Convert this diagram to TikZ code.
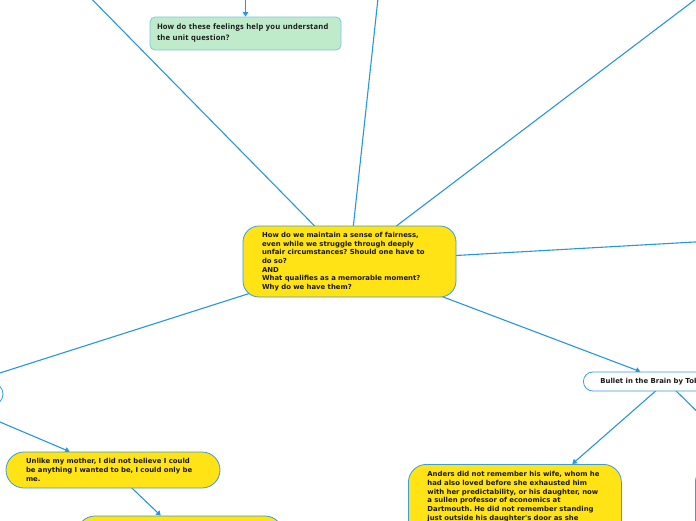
\documentclass[tikz,border=0pt]{standalone}
\usepackage{fontspec}
\usepackage{xcolor}
\usepackage{tikz}
\usetikzlibrary{arrows.meta, backgrounds}
\frenchspacing
\newfontfamily\mapfont{DejaVu Sans}
\newfontfamily\notefont{Open Sans}[LetterSpace=2]
\newcommand{\mapbold}{\mapfont\bfseries\fontsize{6.9pt}{8.65pt}\selectfont}
\newcommand{\notebold}{\notefont\bfseries\fontsize{7.6pt}{11pt}\selectfont}
\definecolor{ideayellow}{RGB}{255,227,20}
\definecolor{nodeblue}{RGB}{58,157,220}
\definecolor{linkblue}{RGB}{40,150,220}
\definecolor{notegreen}{RGB}{192,235,203}
\definecolor{noteedge}{RGB}{125,198,228}
\definecolor{inkblack}{RGB}{25,25,25}
\tikzstyle{topic} = [rectangle, rounded corners=16pt, draw=nodeblue, fill=ideayellow, line width=0.8pt, text=inkblack, font=\mapbold, align=left]
\tikzstyle{branch} = [rectangle, rounded corners=9.5pt, draw=nodeblue, fill=white, line width=0.8pt, text=inkblack, font=\mapbold, minimum height=19pt, inner xsep=17pt]
\tikzstyle{note} = [rectangle, rounded corners=5pt, draw=noteedge, fill=notegreen, line width=0.8pt, text=inkblack, font=\notebold, align=left, text width=177pt, inner xsep=7pt, minimum width=191pt, minimum height=33pt]
\tikzstyle{link} = [linkblue, line width=1.1pt]
\tikzstyle{arrow} = [link, -{Triangle[width=5.5pt,length=4.5pt]}]

\begin{document}
\begin{tikzpicture}[x=1pt, y=-1pt]
\useasboundingbox (0,0) rectangle (696,520);
\clip (0,0) rectangle (696,520);

% Central question
\node (question) [topic, text width=175pt, inner xsep=19pt, minimum height=71pt] at (349.5,261.5) {How do we maintain a sense of fairness,\\even while we struggle through deeply\\unfair circumstances? Should one have to\\do so?\\AND\\What qualifies as a memorable moment?\\Why do we have them?};

% Top note
\node (feelings) [note] at (245.5,33.5) {How do these feelings help you understand\\the unit question?};

% Left branch
\node (leftstory) [branch, rounded corners=11pt, minimum width=138pt, minimum height=22pt] at (-66,394) {};
\node (mother) [topic, rounded corners=18pt, text width=174pt, inner xsep=20pt, minimum height=36pt] at (113,470) {Unlike my mother, I did not believe I could\\be anything I wanted to be, I could only be\\me.};
\node (mothernext) [topic, rounded corners=18pt, minimum width=206pt, minimum height=36pt] at (180,534) {};

% Right branch
\node (bullet) [branch, anchor=west] at (583,381.5) {Bullet in the Brain by Tobias Wolff};
\node (anders) [topic, anchor=north west, rounded corners=18pt, text width=175pt, inner xsep=19pt, inner ysep=7.3pt, text depth=80pt] at (408,464) {Anders did not remember his wife, whom he\\had also loved before she exhausted him\\with her predictability, or his daughter, now\\a sullen professor of economics at\\Dartmouth. He did not remember standing\\just outside his daughter's door as she};
\node (rightnote) [topic, anchor=north west, rounded corners=18pt, minimum width=213pt, minimum height=100pt] at (695,464) {};

% Free ends of the branches leaving the picture
\coordinate (upleft) at (73,-20);
\coordinate (upmid) at (380,-20);
\coordinate (upright) at (721,-20);
\coordinate (farright) at (730,240);
\coordinate (feelparent) at (245.5,-20);

% Links
\begin{scope}[on background layer]
\clip (0,0) rectangle (696,520);
\draw [link] (question.center) -- (upleft);
\draw [link] (question.center) -- (upmid);
\draw [link] (question.center) -- (upright);
\draw [link] (question.center) -- (farright);
\draw [arrow] (question.center) -- (leftstory);
\draw [arrow] (question.center) -- (bullet);
\draw [arrow] (feelparent) -- (feelings);
\draw [arrow] (leftstory.center) -- (mother);
\draw [arrow] (mother.center) -- (mothernext);
\draw [arrow] (bullet.center) -- (anders);
\draw [arrow] (bullet.center) -- (rightnote);
\end{scope}

\end{tikzpicture}
\end{document}
